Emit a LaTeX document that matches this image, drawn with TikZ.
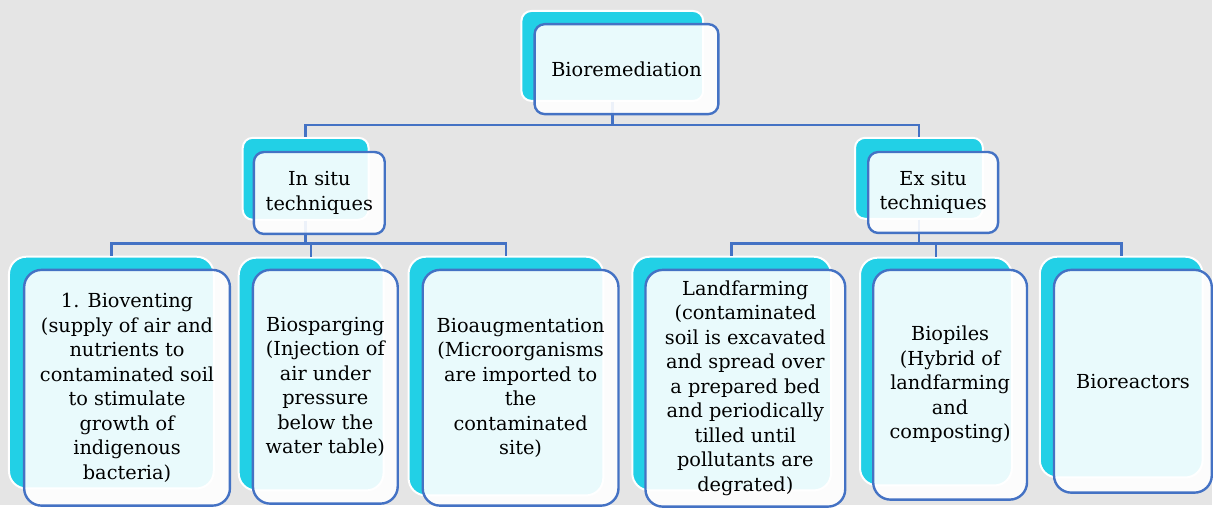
\documentclass[tikz,border=0pt]{standalone}
\usepackage{fontspec}
\setmainfont{DejaVu Serif}
\usepackage{xcolor}
\usepackage{tikz}
\usetikzlibrary{positioning}

\definecolor{bggray}{HTML}{E5E5E5}
\definecolor{tealfill}{HTML}{22D0E6}
\definecolor{edgeblue}{HTML}{4472C4}

\begin{document}
\begin{tikzpicture}[x=0.75pt, y=-0.75pt,
back/.style={rectangle, draw=white, fill=tealfill, line width=1.5pt, rounded corners=7.5pt, inner sep=0pt},
front/.style={rectangle, draw=edgeblue, fill=white, fill opacity=0.9, text opacity=1, line width=1.8pt, rounded corners=7.5pt, align=center, inner sep=2pt, font=\fontsize{14.5}{18.4}\selectfont},
leaf/.style={rounded corners=13pt},
boxsize/.style 2 args={minimum width=#1*0.75pt, minimum height=#2*0.75pt},
conn/.style={draw=edgeblue, line width=2pt}
]
	\fill[bggray] (0,0) rectangle (1213,506);
	\coordinate (bustop) at (0,125);
	\coordinate (buslow) at (0,244);
	% back cards
	\node[back, boxsize={182}{90}, anchor=north west] (rootb) at (521,10) {};
	\node[back, boxsize={126}{82}, anchor=north west] (insitub) at (242,137) {};
	\node[back, boxsize={128}{81}, anchor=north west] (exsitub) at (855,137) {};
	\node[back, leaf, boxsize={205}{232}, anchor=north west] (ventb) at (8,256) {};
	\node[back, leaf, boxsize={145}{233}, anchor=north west] (spargb) at (238,257) {};
	\node[back, leaf, boxsize={195}{239}, anchor=north west] (augb) at (408,256) {};
	\node[back, leaf, boxsize={199}{234}, anchor=north west] (landb) at (632,256) {};
	\node[back, leaf, boxsize={152}{228}, anchor=north west] (pileb) at (860,257) {};
	\node[back, leaf, boxsize={163}{221}, anchor=north west] (reactb) at (1040,256) {};
	% connectors
	\draw[conn] (rootb.south) -- (rootb.south |- bustop) -| (insitub.north);
	\draw[conn] (rootb.south |- bustop) -| (exsitub.north);
	\draw[conn] (insitub.south) -- (insitub.south |- buslow) -| (ventb.north);
	\draw[conn] (insitub.south |- buslow) -| (spargb.north);
	\draw[conn] (insitub.south |- buslow) -| (augb.north);
	\draw[conn] (exsitub.south) -- (exsitub.south |- buslow) -| (landb.north);
	\draw[conn] (exsitub.south |- buslow) -| (pileb.north);
	\draw[conn] (exsitub.south |- buslow) -| (reactb.north);
	% front cards
	\node[front, boxsize={184}{90}, anchor=north west] (root) at ([shift={(13,13)}]rootb.north west) {Bioremediation};
	\node[front, boxsize={131}{82}, anchor=north west] (insitu) at ([shift={(11,14)}]insitub.north west) {In situ\\techniques};
	\node[front, boxsize={130}{81}, anchor=north west] (exsitu) at ([shift={(13,14)}]exsitub.north west) {Ex situ\\techniques};
	\node[front, leaf, boxsize={206}{236}, anchor=north west] (vent) at ([shift={(15,13)}]ventb.north west) {1. Bioventing\\(supply of air and\\nutrients to\\contaminated soil\\to stimulate\\growth of\\indigenous\\bacteria)};
	\node[front, leaf, boxsize={145}{234}, anchor=north west] (sparg) at ([shift={(14,12)}]spargb.north west) {Biosparging\\(Injection of\\air under\\pressure\\below the\\water table)};
	\node[front, leaf, boxsize={196}{236}, anchor=north west] (aug) at ([shift={(14,13)}]augb.north west) {Bioaugmentation\\(Microorganisms\\are imported to\\the\\contaminated\\site)};
	\node[front, leaf, boxsize={200}{237}, anchor=north west] (land) at ([shift={(13,13)}]landb.north west) {Landfarming\\(contaminated\\soil is excavated\\and spread over\\a prepared bed\\and periodically\\tilled until\\pollutants are\\degrated)};
	\node[front, leaf, boxsize={154}{230}, anchor=north west] (pile) at ([shift={(13,12)}]pileb.north west) {Biopiles\\(Hybrid of\\landfarming\\and\\composting)};
	\node[front, leaf, boxsize={158}{223}, anchor=north west] (react) at ([shift={(14,13)}]reactb.north west) {Bioreactors};
\end{tikzpicture}
\end{document}
